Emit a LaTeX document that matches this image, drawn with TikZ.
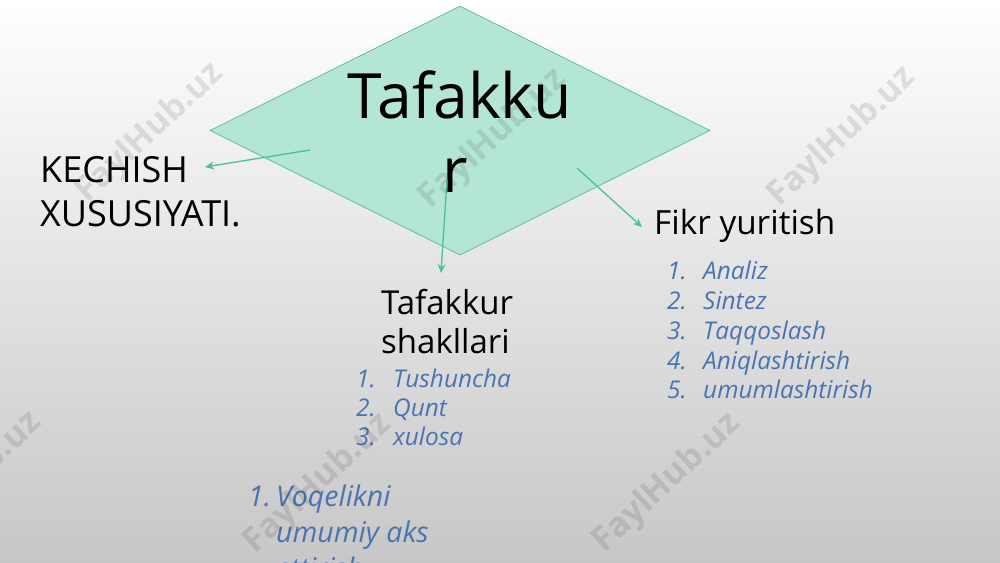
\documentclass[tikz,border=0pt]{standalone}
\usepackage{fontspec}
\setmainfont{Open Sans}
\usetikzlibrary{shapes.geometric,arrows.meta}
\definecolor{dfill}{HTML}{B4E6D5}
\definecolor{dline}{HTML}{5FBF9C}
\definecolor{conncol}{HTML}{4CC097}
\definecolor{listblue}{HTML}{4A74B0}
\tikzset{
  conn/.style={draw=conncol, line width=1.3pt, -{Stealth[length=9pt,width=8pt]}},
  headtxt/.style={inner sep=0pt, anchor=base west, text=black},
  listtxt/.style={inner sep=0pt, anchor=base west, text=listblue, font=\fontsize{24.4}{28}\selectfont\itshape},
  biglist/.style={inner sep=0pt, anchor=base west, text=listblue, font=\fontsize{28.5}{34}\selectfont\itshape},
  wm/.style={font=\fontsize{34}{40}\selectfont\bfseries, text=black, opacity=0.10, rotate=43, inner sep=0pt}
}
\begin{document}
\begin{tikzpicture}[x=1pt,y=-1pt]
\useasboundingbox (0,0) rectangle (1000,562);
\clip (0,0) rectangle (1000,562);
\shade[top color=white, bottom color=black!22] (0,0) rectangle (1000,562);

% diamond
\node[diamond, draw=dline, line width=0.8pt, fill=dfill, minimum width=500pt, minimum height=249pt, inner sep=0pt] (dia) at (460,130.5) {};
\node[headtxt, anchor=base, font=\fontsize{62.5}{74}\selectfont] (title) at (460,118) {Tafakku};
\node[headtxt, anchor=base, font=\fontsize{62.5}{74}\selectfont] (title2) at (455,192) {r};

% left text
\node[headtxt, font=\fontsize{36}{44}\selectfont] (k1) at (40,182) {KECHISH};
\node[headtxt, font=\fontsize{36}{44}\selectfont] (k2) at (40,226) {XUSUSIYATI.};

% middle text
\node[headtxt, font=\fontsize{33}{39}\selectfont] (t1) at (381,314) {Tafakkur};
\node[headtxt, font=\fontsize{33}{39}\selectfont] (t2) at (381,353) {shakllari};
\node[listtxt] (tn1) at (356,387) {1.};
\node[listtxt] (ti1) at (393,387) {Tushuncha};
\node[listtxt] (tn2) at (356,416) {2.};
\node[listtxt] (ti2) at (393,416) {Qunt};
\node[listtxt] (tn3) at (356,445) {3.};
\node[listtxt] (ti3) at (393,445) {xulosa};

% right text
\node[headtxt, font=\fontsize{33.3}{40}\selectfont] (f1) at (654,234) {Fikr yuritish};
\node[listtxt] (fn1) at (667,279) {1.};
\node[listtxt] (fi1) at (703,279) {Analiz};
\node[listtxt] (fn2) at (667,309) {2.};
\node[listtxt] (fi2) at (703,309) {Sintez};
\node[listtxt] (fn3) at (667,339) {3.};
\node[listtxt] (fi3) at (703,339) {Taqqoslash};
\node[listtxt] (fn4) at (667,369) {4.};
\node[listtxt] (fi4) at (703,369) {Aniqlashtirish};
\node[listtxt] (fn5) at (667,398) {5.};
\node[listtxt] (fi5) at (703,398) {umumlashtirish};

% bottom list
\node[biglist] (bn1) at (248,506) {1.};
\node[biglist] (bi1) at (276,506) {Voqelikni};
\node[biglist] (bi2) at (276,542) {umumiy aks};
\node[biglist] (bi3) at (276,578) {ettirish};

% connectors
\coordinate (s1) at (310,150);
\coordinate (e1) at (205,167);
\coordinate (s2) at (447,180);
\coordinate (e2) at (441,273);
\coordinate (s3) at (577,168);
\coordinate (e3) at (642,227);
\draw[conn] (s1) -- (e1);
\draw[conn] (s2) -- (e2);
\draw[conn] (s3) -- (e3);

% watermarks
\node[wm] (w1) at (150,133) {FaylHub.uz};
\node[wm] (w2) at (493,139) {FaylHub.uz};
\node[wm] (w3) at (842,137) {FaylHub.uz};
\node[wm] (w4) at (-32,482) {FaylHub.uz};
\node[wm] (w5) at (318,484) {FaylHub.uz};
\node[wm] (w6) at (667,483) {FaylHub.uz};
\end{tikzpicture}
\end{document}
